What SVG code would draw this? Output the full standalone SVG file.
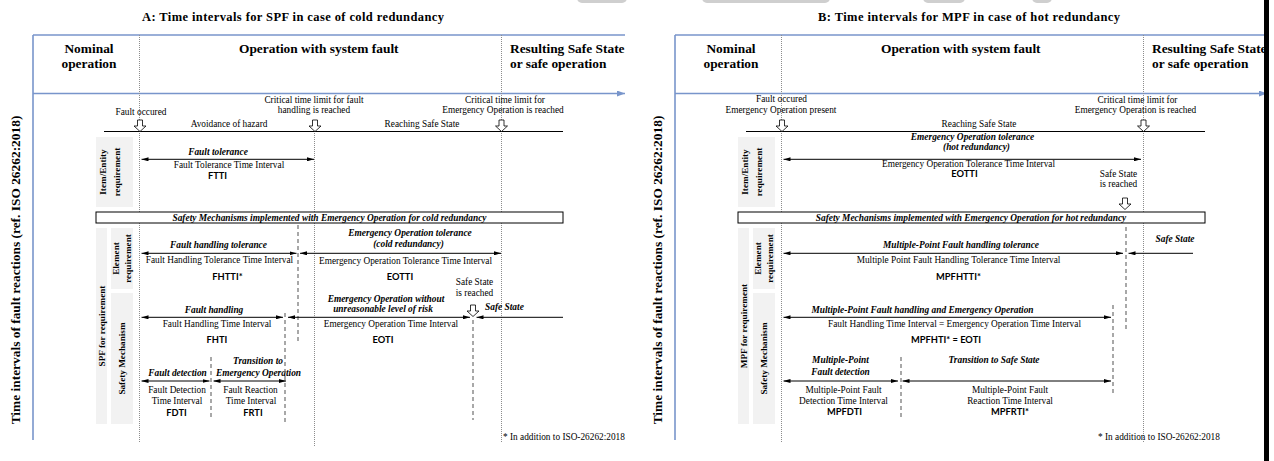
<svg xmlns="http://www.w3.org/2000/svg" width="1274" height="461" viewBox="0 0 1274 461">
<defs>
<style>
text{font-family:"Liberation Serif","Times New Roman",serif;fill:#000}
.t{font-size:9.3px}
.bi{font-size:9.4px;font-weight:bold;font-style:italic}
.h{font-size:13.4px;font-weight:bold}
.ti{font-size:12.5px;font-weight:bold}
.ab{font-family:Lato,"Open Sans",sans-serif;font-size:9.3px;font-weight:bold}
.rl{font-size:9.2px;font-weight:bold}
.m{text-anchor:middle}
.blue{stroke:#7895cb;stroke-width:1.6;fill:none}
.dot{stroke:#8c8c8c;stroke-width:1;stroke-dasharray:1 1;fill:none}
.dash{stroke:#7a7a7a;stroke-width:1.3;stroke-dasharray:4 3;fill:none}
.ln{stroke:#000;stroke-width:1;fill:none}
.a2{stroke:#000;stroke-width:1;fill:none;marker-start:url(#ah);marker-end:url(#ah)}
.a1{stroke:#000;stroke-width:1;fill:none;marker-end:url(#ah)}
.gr{fill:#f2f2f2}
.box{fill:#fff;stroke:#000;stroke-width:1}
.blob{fill:#cfcfcf}
</style>
<marker id="ah" viewBox="0 0 7 4" refX="7" refY="2" markerWidth="7" markerHeight="4" markerUnits="userSpaceOnUse" orient="auto-start-reverse"><path d="M0,0 L7,2 L0,4 z" fill="#000"/></marker>
<marker id="bh" viewBox="0 0 8 6" refX="8" refY="3" markerWidth="8" markerHeight="6" markerUnits="userSpaceOnUse" orient="auto"><path d="M0,0 L8,3 L0,6 z" fill="#7895cb"/></marker>
<path id="dn" d="M-2.5,0 h5 v6 h3.5 l-6,5.5 l-6,-5.5 h3.5 z" fill="#fff" stroke="#000" stroke-width="0.8"/>
</defs>
<rect width="1274" height="461" fill="#fff"/>

<g id="top-artifacts">
<rect class="blob" x="577" y="-8" width="50" height="11" rx="5"/>
<rect class="blob" x="702" y="-8" width="128" height="11" rx="5"/>
<rect class="blob" x="923" y="-8" width="42" height="11" rx="5"/>
<rect class="blob" x="1032" y="-8" width="20" height="11" rx="5"/>
</g>

<!-- ================= PANEL A ================= -->
<g id="panelA-frame">
<text class="ti" x="142" y="21" textLength="302" lengthAdjust="spacing">A: Time intervals for SPF in case of cold redundancy</text>
<line class="blue" x1="33" y1="35" x2="625" y2="35"/>
<line class="blue" x1="33" y1="35" x2="33" y2="440"/>
<line class="blue" x1="33" y1="93.5" x2="625" y2="93.5" marker-end="url(#bh)"/>
<line class="dot" x1="139.5" y1="35" x2="139.5" y2="442"/>
<line class="dot" x1="501.5" y1="35" x2="501.5" y2="442"/>
<line class="dot" x1="314.5" y1="131" x2="314.5" y2="447"/>
<text class="h" transform="translate(15,270) rotate(-90)" y="4.5" text-anchor="middle">Time intervals of fault reactions (ref. ISO 26262:2018)</text>
</g>

<g id="headerA">
<text class="h m" x="89" y="53">Nominal</text>
<text class="h m" x="89" y="68">operation</text>
<text class="h" x="239" y="53">Operation with system fault</text>
<text class="h" x="510" y="53">Resulting Safe State</text>
<text class="h" x="510" y="68">or safe operation</text>
</g>

<g id="eventsA">
<text class="t m" x="141" y="115">Fault occured</text>
<text class="t m" x="229" y="127">Avoidance of hazard</text>
<text class="t m" x="314" y="103">Critical time limit for fault</text>
<text class="t m" x="314" y="113">handling is reached</text>
<text class="t m" x="505" y="103">Critical time limit for</text>
<text class="t m" x="503" y="113">Emergency Operation is reached</text>
<text class="t m" x="422" y="127">Reaching Safe State</text>
</g>

<g id="labelsA">
<rect class="gr" x="96" y="137" width="37" height="70"/>
<text class="rl m" transform="translate(103,172) rotate(-90)" y="3">Item/Entity</text>
<text class="rl m" transform="translate(116.5,172) rotate(-90)" y="3">requirement</text>
<rect class="gr" x="96" y="228" width="11" height="196"/>
<text class="rl m" transform="translate(101.5,326) rotate(-90)" y="3">SPF for requirement</text>
<rect class="gr" x="111" y="228" width="22" height="61"/>
<text class="rl m" transform="translate(115.5,258.5) rotate(-90)" y="3">Element</text>
<text class="rl m" transform="translate(127.5,258.5) rotate(-90)" y="3">requirement</text>
<rect class="gr" x="111" y="293" width="22" height="131"/>
<text class="rl m" transform="translate(122,358.5) rotate(-90)" y="3">Safety Mechanism</text>
</g>

<g id="ftA">
<text class="bi m" x="218" y="155">Fault tolerance</text>
<text class="t m" x="229" y="168">Fault Tolerance Time Interval</text>
<text class="ab m" x="217.5" y="179">FTTI</text>
</g>

<g id="fhtA">
<text class="bi m" x="218.5" y="248">Fault handling tolerance</text>
<text class="t m" x="219.5" y="263">Fault Handling Tolerance Time Interval</text>
<text class="ab m" x="227.5" y="280">FHTTI*</text>
</g>

<g id="eotA">
<text class="bi m" x="410" y="236">Emergency Operation tolerance</text>
<text class="bi m" x="408.5" y="247">(cold redundancy)</text>
<text class="t m" x="405.5" y="264">Emergency Operation Tolerance Time Interval</text>
<text class="ab m" x="400" y="280">EOTTI</text>
<text class="t m" x="474.5" y="285">Safe State</text>
<text class="t m" x="474.5" y="296">is reached</text>
</g>

<g id="fhA">
<text class="bi m" x="214" y="313">Fault handling</text>
<text class="t m" x="217" y="327">Fault Handling Time Interval</text>
<text class="ab m" x="217" y="343">FHTI</text>
</g>

<g id="eoA">
<text class="bi m" x="386" y="302">Emergency Operation without</text>
<text class="bi m" x="383" y="312">unreasonable level of risk</text>
<text class="t m" x="391" y="327">Emergency Operation Time Interval</text>
<text class="ab m" x="383" y="343">EOTI</text>
<text class="bi" x="485" y="310">Safe State</text>
</g>

<g id="fdA">
<text class="bi m" x="177.5" y="376">Fault detection</text>
<text class="t m" x="177" y="393">Fault Detection</text>
<text class="t m" x="177" y="404">Time Interval</text>
<text class="ab m" x="176.5" y="416">FDTI</text>
</g>

<g id="frA">
<text class="bi m" x="258" y="364">Transition to</text>
<text class="bi m" x="258.5" y="376">Emergency Operation</text>
<text class="t m" x="250.5" y="393">Fault Reaction</text>
<text class="t m" x="251" y="404">Time Interval</text>
<text class="ab m" x="253" y="416">FRTI</text>
</g>

<g id="boxA">
<rect class="box" x="96" y="212" width="467" height="11"/>
<text class="bi m" x="329.5" y="221">Safety Mechanisms implemented with Emergency Operation for cold redundancy</text>
</g>

<text class="t" x="503" y="440">* In addition to ISO-26262:2018</text>

<!-- ================= PANEL B ================= -->
<g id="panelB-frame">
<text class="ti" x="818" y="21" textLength="302" lengthAdjust="spacing">B: Time intervals for MPF in case of hot redundancy</text>
<line class="blue" x1="675" y1="35" x2="1265" y2="35"/>
<line class="blue" x1="675" y1="35" x2="675" y2="440"/>
<line class="blue" x1="675" y1="93.5" x2="1267" y2="93.5" marker-end="url(#bh)"/>
<line class="dot" x1="781.5" y1="35" x2="781.5" y2="442"/>
<line class="dot" x1="1143.5" y1="35" x2="1143.5" y2="442"/>
<text class="h" transform="translate(657,270) rotate(-90)" y="4.5" text-anchor="middle">Time intervals of fault reactions (ref. ISO 26262:2018)</text>
</g>

<g id="headerB">
<text class="h m" x="731" y="53">Nominal</text>
<text class="h m" x="731" y="68">operation</text>
<text class="h" x="881" y="53">Operation with system fault</text>
<text class="h" x="1152" y="53">Resulting Safe State</text>
<text class="h" x="1152" y="68">or safe operation</text>
</g>

<g id="eventsB">
<text class="t m" x="781.5" y="102">Fault occured</text>
<text class="t m" x="781" y="113">Emergency Operation present</text>
<text class="t m" x="979" y="127">Reaching Safe State</text>
<text class="t m" x="1137.5" y="103">Critical time limit for</text>
<text class="t m" x="1135.5" y="113">Emergency Operation is reached</text>
</g>

<g id="labelsB">
<rect class="gr" x="738" y="137" width="37" height="70"/>
<text class="rl m" transform="translate(745,172) rotate(-90)" y="3">Item/Entity</text>
<text class="rl m" transform="translate(758.5,172) rotate(-90)" y="3">requirement</text>
<rect class="gr" x="738" y="228" width="11" height="196"/>
<text class="rl m" transform="translate(743.5,326) rotate(-90)" y="3">MPF for requirement</text>
<rect class="gr" x="753" y="228" width="22" height="61"/>
<text class="rl m" transform="translate(757.5,258.5) rotate(-90)" y="3">Element</text>
<text class="rl m" transform="translate(769.5,258.5) rotate(-90)" y="3">requirement</text>
<rect class="gr" x="753" y="293" width="22" height="131"/>
<text class="rl m" transform="translate(764,358.5) rotate(-90)" y="3">Safety Mechanism</text>
</g>

<g id="eotB">
<text class="bi m" x="972.5" y="140">Emergency Operation tolerance</text>
<text class="bi m" x="976.5" y="150">(hot redundancy)</text>
<text class="t m" x="968.5" y="167">Emergency Operation Tolerance Time Interval</text>
<text class="ab m" x="964.5" y="177">EOTTI</text>
<text class="t m" x="1118.5" y="177">Safe State</text>
<text class="t m" x="1118.5" y="187">is reached</text>
</g>

<g id="boxB">
<rect class="box" x="738" y="212" width="467" height="11"/>
<text class="bi m" x="971" y="221">Safety Mechanisms implemented with Emergency Operation for hot redundancy</text>
</g>

<g id="mpfhtB">
<text class="bi m" x="961" y="248">Multiple-Point Fault handling tolerance</text>
<text class="t m" x="958.5" y="263">Multiple Point Fault Handling Tolerance Time Interval</text>
<text class="ab m" x="958.5" y="280">MPFHTTI*</text>
<text class="bi m" x="1175" y="242">Safe State</text>
</g>

<g id="mpfhB">
<text class="bi m" x="922.5" y="313">Multiple-Point Fault handling and Emergency Operation</text>
<text class="t m" x="954.5" y="327">Fault Handling Time Interval = Emergency Operation Time Interval</text>
<text class="ab m" x="946" y="343">MPFHTI* = EOTI</text>
</g>

<g id="mpfdB">
<text class="bi m" x="840.5" y="363">Multiple-Point</text>
<text class="bi m" x="840.5" y="375">Fault detection</text>
<text class="t m" x="843.5" y="393">Multiple-Point Fault</text>
<text class="t m" x="843.5" y="404">Detection Time Interval</text>
<text class="ab m" x="844.5" y="415">MPFDTI</text>
</g>

<g id="mpfrB">
<text class="bi m" x="994" y="363">Transition to Safe State</text>
<text class="t m" x="1010" y="393">Multiple-Point Fault</text>
<text class="t m" x="1010" y="404">Reaction Time Interval</text>
<text class="ab m" x="1010" y="415">MPFRTI*</text>
</g>

<text class="t" x="1098" y="440">* In addition to ISO-26262:2018</text>

<!-- ================= CONNECTORS ================= -->
<g id="connectors">
<!-- A -->
<line class="ln" x1="104" y1="131.5" x2="563" y2="131.5"/>
<line class="dash" x1="298" y1="225" x2="298" y2="342"/>
<line class="dash" x1="285" y1="313" x2="285" y2="424"/>
<line class="dash" x1="211" y1="357" x2="211" y2="418"/>
<line class="dash" x1="473" y1="320" x2="473" y2="420"/>
<line class="a2" x1="141.5" y1="159.3" x2="314" y2="159.3"/>
<line class="a2" x1="141.5" y1="253.3" x2="296.5" y2="253.3"/>
<line class="a2" x1="300" y1="253.3" x2="501" y2="253.3"/>
<line class="a2" x1="141.5" y1="317.3" x2="283" y2="317.3"/>
<line class="a2" x1="288" y1="317.3" x2="470" y2="317.3"/>
<line class="a1" x1="563" y1="317.3" x2="476.5" y2="317.3"/>
<line class="a2" x1="141.5" y1="381" x2="209.5" y2="381"/>
<line class="a2" x1="213.5" y1="381" x2="286" y2="381"/>
<use href="#dn" x="140" y="120"/>
<use href="#dn" x="315" y="120"/>
<use href="#dn" x="501.5" y="120"/>
<use href="#dn" x="473" y="305"/>
<!-- B -->
<line class="ln" x1="746" y1="131.5" x2="1205" y2="131.5"/>
<line class="dash" x1="1126" y1="227" x2="1126" y2="332"/>
<line class="dash" x1="1113" y1="305" x2="1113" y2="393"/>
<line class="dash" x1="901" y1="357" x2="901" y2="418"/>
<line class="a2" x1="783.5" y1="159.3" x2="1141" y2="159.3"/>
<line class="a2" x1="783.5" y1="253.3" x2="1123" y2="253.3"/>
<line class="a1" x1="1193" y1="253.3" x2="1128.5" y2="253.3"/>
<line class="a2" x1="783.5" y1="317.3" x2="1111" y2="317.3"/>
<line class="a2" x1="783.5" y1="381" x2="898" y2="381"/>
<line class="a2" x1="902.5" y1="381" x2="1111" y2="381"/>
<use href="#dn" x="782" y="120"/>
<use href="#dn" x="1143.5" y="120"/>
<use href="#dn" x="1125" y="198"/>
</g>

<rect id="edge-bar" x="1264" y="0" width="5" height="461" fill="#000"/>
</svg>
